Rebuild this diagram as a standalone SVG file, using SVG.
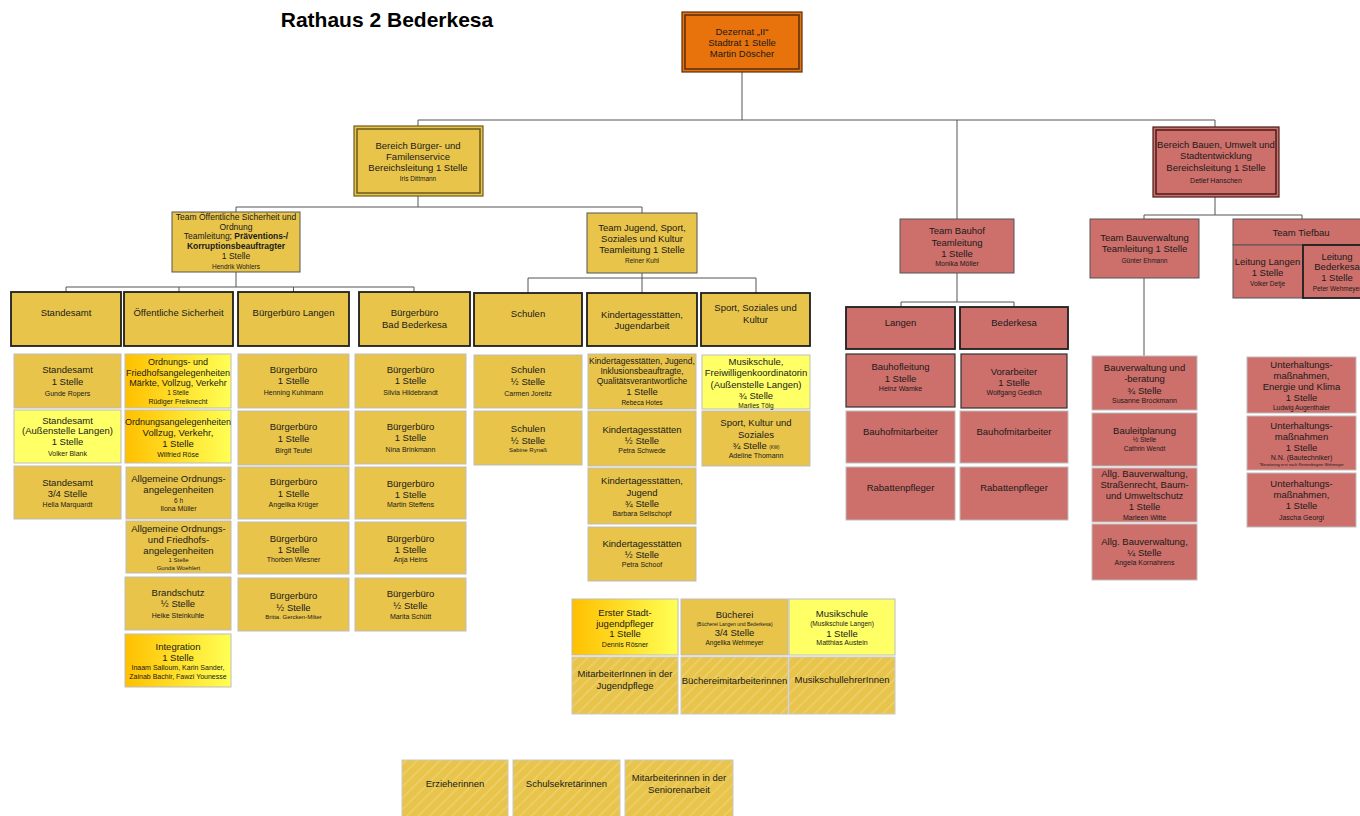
<svg xmlns="http://www.w3.org/2000/svg" width="1360" height="816" viewBox="0 0 1360 816">
<defs>
<linearGradient id="grad" x1="0" y1="0" x2="1" y2="0">
<stop offset="0" stop-color="#FFC000"/>
<stop offset="1" stop-color="#FFFF55"/>
</linearGradient>
<pattern id="hatch" width="8" height="8" patternUnits="userSpaceOnUse" patternTransform="rotate(45)">
<rect width="8" height="8" fill="#E8C44A"/>
<rect x="0" y="0" width="1.5" height="8" fill="#EDD070"/>
</pattern>
<style>
.y{fill:#E8C44A;stroke:#bdbdbd;stroke-width:1}
.ly{fill:#FFFF66;stroke:#bdbdbd;stroke-width:1}
.g{fill:url(#grad);stroke:#bdbdbd;stroke-width:1}
.r{fill:#CD6F6A;stroke:#bdbdbd;stroke-width:1}
.hd{stroke:#1e1e1e;stroke-width:1.8}
.dk{stroke:#333;stroke-width:1.2}
.tm{stroke:#555;stroke-width:1}
.ha{fill:url(#hatch);stroke:#c8c8c8;stroke-width:1}
text{font-family:"Liberation Sans",Arial,sans-serif;font-size:9.5px;fill:#1a1a1a;text-anchor:middle}
.s{font-size:7px}
.xs{font-size:6.5px}
.xxs{font-size:6px}
.m{font-size:8.5px}
.b{font-weight:bold}
.con{fill:none;stroke:#555;stroke-width:1}
</style>
</defs>
<rect width="1360" height="816" fill="#ffffff"/>
<text x="387" y="27" style="font-size:21px;font-weight:bold;fill:#000">Rathaus 2 Bederkesa</text>

<g id="connectors" class="con">
<path d="M742 72V120M418 120H1215M418 120V126M957 120V219M1215 120V127"/>
<path d="M418 196V207M236 207H642M236 207V212M642 207V213"/>
<path d="M236 272V287M66 287H414M66 287V292M179 287V292M293.5 287V292M414 287V292"/>
<path d="M642 273V278M528 278H756M528 278V293M642 278V293M756 278V293"/>
<path d="M957 273V302M901 302H1014M901 302V307M1014 302V307"/>
<path d="M1215 197V215M1144 215H1302M1144 215V219M1302 215V219M1144 278V356"/>
</g>

<g id="dezernat">
<rect x="682" y="12" width="120" height="60" fill="#E8720C" stroke="#5a2d0c" stroke-width="1.2"/>
<rect x="685" y="15" width="114" height="54" fill="none" stroke="#5a2d0c" stroke-width="1.5"/>
<text x="742" y="34.5">Dezernat „II“</text>
<text x="742" y="45.5">Stadtrat 1 Stelle</text>
<text x="742" y="56.5">Martin Döscher</text>
</g>

<g id="bereich-buerger">
<rect x="354" y="126" width="129" height="70" fill="#E8C44A" stroke="#6b5a1e" stroke-width="1.2"/>
<rect x="357" y="129" width="123" height="64" fill="none" stroke="#6b5a1e" stroke-width="1.5"/>
<text x="418" y="148.5">Bereich Bürger- und</text>
<text x="418" y="159.5">Familenservice</text>
<text x="418" y="171">Bereichsleitung 1 Stelle</text>
<text x="418" y="180.5" class="xs">Iris Dittmann</text>
</g>

<g id="team-oeffentliche">
<rect x="172" y="212" width="128" height="60" class="y tm"/>
<text x="236" y="220" class="m">Team Öffentliche Sicherheit und</text>
<text x="236" y="229.5" class="m">Ordnung</text>
<text x="236" y="239" class="m">Teamleitung; <tspan class="b">Präventions-/</tspan></text>
<text x="236" y="248.5" class="m b">Korruptionsbeauftragter</text>
<text x="236" y="258.5" class="m">1 Stelle</text>
<text x="236" y="269" class="xs">Hendrik Wohlers</text>
</g>

<g id="team-jugend">
<rect x="587" y="213" width="110" height="60" class="y tm"/>
<text x="642" y="231">Team Jugend, Sport,</text>
<text x="642" y="242">Soziales und Kultur</text>
<text x="642" y="253">Teamleitung 1 Stelle</text>
<text x="642" y="262.5" class="xs">Reiner Kuhl</text>
</g>

<g id="h-standesamt"><rect x="11" y="292" width="110" height="54" class="y hd"/><text x="66" y="316">Standesamt</text></g>
<g id="h-oeffentliche"><rect x="124" y="292" width="109" height="54" class="y hd"/><text x="178.5" y="316">Öffentliche Sicherheit</text></g>
<g id="h-bb-langen"><rect x="238" y="292" width="111" height="54" class="y hd"/><text x="293.5" y="316">Bürgerbüro Langen</text></g>
<g id="h-bb-bederkesa"><rect x="359" y="292" width="111" height="54" class="y hd"/><text x="414.5" y="316">Bürgerbüro</text><text x="414.5" y="327.5">Bad Bederkesa</text></g>
<g id="h-schulen"><rect x="474" y="293" width="108" height="53" class="y hd"/><text x="528" y="316.5">Schulen</text></g>
<g id="h-kita"><rect x="587" y="293" width="110" height="53" class="y hd"/><text x="642" y="318">Kindertagesstätten,</text><text x="642" y="329">Jugendarbeit</text></g>
<g id="h-sport"><rect x="701" y="293" width="109" height="53" class="y hd"/><text x="755.5" y="311">Sport, Soziales und</text><text x="755.5" y="322.5">Kultur</text></g>

<g id="st1"><rect x="14" y="354" width="107" height="54" class="y"/><text x="67.5" y="372.5">Standesamt</text><text x="67.5" y="384.5">1 Stelle</text><text x="67.5" y="395.5" class="s">Gunde Ropers</text></g>
<g id="st2"><rect x="14" y="410" width="107" height="53" class="ly"/><text x="67.5" y="423.5">Standesamt</text><text x="67.5" y="434">(Außenstelle Langen)</text><text x="67.5" y="445">1 Stelle</text><text x="67.5" y="456" class="s">Volker Blank</text></g>
<g id="st3"><rect x="14" y="466" width="107" height="53" class="y"/><text x="67.5" y="486">Standesamt</text><text x="67.5" y="497">3/4 Stelle</text><text x="67.5" y="506.5" class="s">Hella Marquardt</text></g>

<g id="os1"><rect x="125" y="354" width="106" height="54" class="g"/><text x="178" y="364.5" style="font-size:9px">Ordnungs- und</text><text x="178" y="375.5" style="font-size:9px">Friedhofsangelegenheiten</text><text x="178" y="386" style="font-size:9px">Märkte, Vollzug, Verkehr</text><text x="178" y="394.5" class="xs">1 Stelle</text><text x="178" y="403.5" class="s">Rüdiger Freiknecht</text></g>
<g id="os2"><rect x="125" y="410" width="106" height="53" class="g"/><text x="178" y="425" style="font-size:9px">Ordnungsangelegenheiten</text><text x="178" y="436">Vollzug, Verkehr,</text><text x="178" y="447">1 Stelle</text><text x="178" y="456.5" class="s">Wilfried Röse</text></g>
<g id="os3"><rect x="126" y="467" width="105" height="52" class="y"/><text x="178.5" y="481.5">Allgemeine Ordnungs-</text><text x="178.5" y="493">angelegenheiten</text><text x="178.5" y="502.5" class="xs">6 h</text><text x="178.5" y="511" class="s">Ilona Müller</text></g>
<g id="os4"><rect x="126" y="521" width="105" height="52" class="y"/><text x="178.5" y="531.5">Allgemeine Ordnungs-</text><text x="178.5" y="542.5">und Friedhofs-</text><text x="178.5" y="554">angelegenheiten</text><text x="178.5" y="562" class="xxs">1 Stelle</text><text x="178.5" y="569.5" class="xxs">Gunda Woehlert</text></g>
<g id="os5"><rect x="125" y="577" width="106" height="53" class="y"/><text x="178" y="595.5">Brandschutz</text><text x="178" y="607">½ Stelle</text><text x="178" y="618" class="s">Heike Steinkuhle</text></g>
<g id="os6"><rect x="125" y="634" width="106" height="53" class="g"/><text x="178" y="649.5">Integration</text><text x="178" y="661">1 Stelle</text><text x="178" y="669.5" class="s">Inaam Salloum, Karin Sander,</text><text x="178" y="678.5" class="s">Zainab Bachir, Fawzi Younesse</text></g>

<g id="bl1"><rect x="238" y="354" width="111" height="54" class="y"/><text x="293.5" y="372.5">Bürgerbüro</text><text x="293.5" y="384">1 Stelle</text><text x="293.5" y="395" class="s">Henning Kuhlmann</text></g>
<g id="bl2"><rect x="238" y="411" width="111" height="54" class="y"/><text x="293.5" y="430">Bürgerbüro</text><text x="293.5" y="441.5">1 Stelle</text><text x="293.5" y="452.5" class="s">Birgit Teufel</text></g>
<g id="bl3"><rect x="238" y="467" width="111" height="52" class="y"/><text x="293.5" y="485">Bürgerbüro</text><text x="293.5" y="496.5">1 Stelle</text><text x="293.5" y="507" class="s">Angelika Krüger</text></g>
<g id="bl4"><rect x="238" y="522" width="111" height="52" class="y"/><text x="293.5" y="541.5">Bürgerbüro</text><text x="293.5" y="553">1 Stelle</text><text x="293.5" y="562" class="s">Thorben Wiesner</text></g>
<g id="bl5"><rect x="238" y="578" width="111" height="53" class="y"/><text x="293.5" y="599">Bürgerbüro</text><text x="293.5" y="610.5">½  Stelle</text><text x="293.5" y="618.5" class="xxs">Britta. Gercken-Milter</text></g>

<g id="bb1"><rect x="355" y="354" width="111" height="54" class="y"/><text x="410.5" y="372.5">Bürgerbüro</text><text x="410.5" y="384">1 Stelle</text><text x="410.5" y="395" class="s">Silvia Hildebrandt</text></g>
<g id="bb2"><rect x="355" y="411" width="111" height="53" class="y"/><text x="410.5" y="429.5">Bürgerbüro</text><text x="410.5" y="441">1 Stelle</text><text x="410.5" y="452" class="s">Nina Brinkmann</text></g>
<g id="bb3"><rect x="355" y="467" width="111" height="52" class="y"/><text x="410.5" y="486.5">Bürgerbüro</text><text x="410.5" y="498">1 Stelle</text><text x="410.5" y="506.5" class="s">Martin Steffens</text></g>
<g id="bb4"><rect x="355" y="522" width="111" height="52" class="y"/><text x="410.5" y="541.5">Bürgerbüro</text><text x="410.5" y="553">1 Stelle</text><text x="410.5" y="562" class="s">Anja Heins</text></g>
<g id="bb5"><rect x="355" y="578" width="111" height="53" class="y"/><text x="410.5" y="597">Bürgerbüro</text><text x="410.5" y="608.5">½ Stelle</text><text x="410.5" y="619" class="s">Marita Schütt</text></g>

<g id="sc1"><rect x="474" y="355" width="108" height="53" class="y"/><text x="528" y="373">Schulen</text><text x="528" y="384.5">½ Stelle</text><text x="528" y="395.5" class="s">Carmen Joreitz</text></g>
<g id="sc2"><rect x="474" y="411" width="108" height="54" class="y"/><text x="528" y="431.5">Schulen</text><text x="528" y="443.5">½ Stelle</text><text x="528" y="451.5" class="xxs">Sabine Rynaß</text></g>

<g id="ki1"><rect x="588" y="354" width="108" height="55" class="y"/><text x="642" y="363.5" class="m">Kindertagesstätten, Jugend,</text><text x="642" y="373.5" class="m">Inklusionsbeauftragte,</text><text x="642" y="383.5" class="m">Qualitätsverantwortliche</text><text x="642" y="394.5">1 Stelle</text><text x="642" y="405" class="xs">Rebeca Hotes</text></g>
<g id="ki2"><rect x="588" y="411" width="108" height="55" class="y"/><text x="642" y="432.5">Kindertagesstätten</text><text x="642" y="443.5">½ Stelle</text><text x="642" y="452.5" class="s">Petra Schwede</text></g>
<g id="ki3"><rect x="588" y="468" width="108" height="56" class="y"/><text x="642" y="484">Kindertagesstätten,</text><text x="642" y="495.5">Jugend</text><text x="642" y="507">¾ Stelle</text><text x="642" y="516" class="s">Barbara Sellschopf</text></g>
<g id="ki4"><rect x="588" y="527" width="108" height="54" class="y"/><text x="642" y="547">Kindertagesstätten</text><text x="642" y="558">½ Stelle</text><text x="642" y="566.5" class="s">Petra Schoof</text></g>

<g id="sp1"><rect x="702" y="355" width="108" height="54" class="ly"/><text x="756" y="364.5">Musikschule,</text><text x="756" y="376">Freiwilligenkoordinatorin</text><text x="756" y="387.5">(Außenstelle Langen)</text><text x="756" y="398.5">¾ Stelle</text><text x="756" y="408" class="xs">Marlies Tölg</text></g>
<g id="sp2"><rect x="702" y="411" width="108" height="55" class="y"/><text x="756" y="426">Sport, Kultur und</text><text x="756" y="437.5">Soziales</text><text x="756" y="449">¾ Stelle <tspan style="font-size:4.5px">(KW)</tspan></text><text x="756" y="458" class="s">Adeline Thomann</text></g>

<g id="jugendpfleger"><rect x="572" y="599" width="106" height="56" class="g"/><text x="625" y="615.5">Erster Stadt-</text><text x="625" y="627">jugendpfleger</text><text x="625" y="637">1 Stelle</text><text x="625" y="646.5" class="s">Dennis Rösner</text></g>
<g id="buecherei"><rect x="681" y="599" width="107" height="56" class="y"/><text x="734.5" y="617.5">Bücherei</text><text x="734.5" y="625.5" style="font-size:5px">(Bücherei Langen und Bederkesa)</text><text x="734.5" y="636">3/4 Stelle</text><text x="734.5" y="644.5" class="xs">Angelika Wehmeyer</text></g>
<g id="musikschule"><rect x="789" y="599" width="106" height="56" class="ly"/><text x="842" y="617">Musikschule</text><text x="842" y="626" class="xs">(Musikschule Langen)</text><text x="842" y="636.5">1 Stelle</text><text x="842" y="645" class="s">Matthias Austein</text></g>
<g id="ma-jugendpflege"><rect x="572" y="657" width="106" height="57" class="ha"/><text x="625" y="677">MitarbeiterInnen in der</text><text x="625" y="688.5">Jugendpflege</text></g>
<g id="ma-buecherei"><rect x="681" y="657" width="107" height="57" class="ha"/><text x="734.5" y="683.5">Büchereimitarbeiterinnen</text></g>
<g id="ma-musikschule"><rect x="789" y="657" width="106" height="57" class="ha"/><text x="842" y="683">MusikschullehrerInnen</text></g>

<g id="erzieherinnen"><rect x="402" y="760" width="106" height="60" class="ha"/><text x="455" y="787">Erzieherinnen</text></g>
<g id="schulsekretaerinnen"><rect x="513" y="760" width="107" height="60" class="ha"/><text x="566.5" y="787">Schulsekretärinnen</text></g>
<g id="seniorenarbeit"><rect x="625" y="760" width="108" height="60" class="ha"/><text x="679" y="781">Mitarbeiterinnen in der</text><text x="679" y="793">Seniorenarbeit</text></g>

<g id="team-bauhof"><rect x="900" y="219" width="114" height="54" class="r tm"/><text x="957" y="234">Team Bauhof</text><text x="957" y="245.5">Teamleitung</text><text x="957" y="257">1 Stelle</text><text x="957" y="265.5" class="s">Monika Möller</text></g>
<g id="h-langen"><rect x="846" y="307" width="109" height="42" class="r hd"/><text x="900.5" y="326">Langen</text></g>
<g id="h-bederkesa"><rect x="960" y="307" width="108" height="42" class="r hd"/><text x="1014" y="326">Bederkesa</text></g>
<g id="bauhofleitung"><rect x="846" y="354" width="109" height="53" class="r dk"/><text x="900.5" y="370">Bauhofleitung</text><text x="900.5" y="381.5">1 Stelle</text><text x="900.5" y="390.5" class="s">Heinz Wamke</text></g>
<g id="vorarbeiter"><rect x="961" y="354" width="106" height="54" class="r dk"/><text x="1014" y="375">Vorarbeiter</text><text x="1014" y="386">1 Stelle</text><text x="1014" y="395" class="s">Wolfgang Gedlich</text></g>
<g id="bauhofmitarbeiter-l"><rect x="846" y="411" width="109" height="52" class="r"/><text x="900.5" y="435">Bauhofmitarbeiter</text></g>
<g id="bauhofmitarbeiter-b"><rect x="960" y="411" width="108" height="52" class="r"/><text x="1014" y="435">Bauhofmitarbeiter</text></g>
<g id="rabattenpfleger-l"><rect x="846" y="467" width="109" height="53" class="r"/><text x="900.5" y="491">Rabattenpfleger</text></g>
<g id="rabattenpfleger-b"><rect x="960" y="467" width="108" height="53" class="r"/><text x="1014" y="491">Rabattenpfleger</text></g>

<g id="bereich-bauen">
<rect x="1153" y="127" width="126" height="70" fill="#CD6F6A" stroke="#4a1c1a" stroke-width="1.2"/>
<rect x="1156" y="130" width="120" height="64" fill="none" stroke="#4a1c1a" stroke-width="1.5"/>
<text x="1216" y="148">Bereich Bauen, Umwelt und</text>
<text x="1216" y="159">Stadtentwicklung</text>
<text x="1216" y="171">Bereichsleitung 1 Stelle</text>
<text x="1216" y="182.5" class="s">Detlef Hanschen</text>
</g>
<g id="team-bauverwaltung"><rect x="1090" y="219" width="109" height="59" class="r tm"/><text x="1144.5" y="241">Team Bauverwaltung</text><text x="1144.5" y="252">Teamleitung 1 Stelle</text><text x="1144.5" y="262.5" class="xs">Günter Ehmann</text></g>
<g id="team-tiefbau"><rect x="1233" y="219" width="132" height="26" class="r tm"/><text x="1301" y="236">Team Tiefbau</text></g>
<g id="leitung-langen"><rect x="1233" y="245" width="70" height="53" class="r tm"/><text x="1267.5" y="265">Leitung Langen</text><text x="1267.5" y="276">1 Stelle</text><text x="1267.5" y="286" class="xs">Volker Detje</text></g>
<g id="leitung-bederkesa"><rect x="1303" y="245" width="62" height="53" class="r hd"/><text x="1337" y="259.5">Leitung</text><text x="1337" y="270">Bederkesa</text><text x="1337" y="281">1 Stelle</text><text x="1337" y="290.5" class="xs">Peter Wehmeyer</text></g>

<g id="bv1"><rect x="1092" y="356" width="105" height="54" class="r"/><text x="1144.5" y="371">Bauverwaltung und</text><text x="1144.5" y="382">-beratung</text><text x="1144.5" y="394">¾ Stelle</text><text x="1144.5" y="403" class="s">Susanne Brockmann</text></g>
<g id="bv2"><rect x="1092" y="413" width="105" height="53" class="r"/><text x="1144.5" y="434">Bauleitplanung</text><text x="1144.5" y="442" class="xs">½ Stelle</text><text x="1144.5" y="451" class="xs">Cathrin Wendt</text></g>
<g id="bv3"><rect x="1092" y="468" width="105" height="54" class="r"/><text x="1144.5" y="476.5">Allg. Bauverwaltung,</text><text x="1144.5" y="487.5">Straßenrecht, Baum-</text><text x="1144.5" y="498.5">und Umweltschutz</text><text x="1144.5" y="509.5">1 Stelle</text><text x="1144.5" y="520" class="s">Marleen Witte</text></g>
<g id="bv4"><rect x="1092" y="524" width="105" height="56" class="r"/><text x="1144.5" y="545">Allg. Bauverwaltung,</text><text x="1144.5" y="556">¼ Stelle</text><text x="1144.5" y="565" class="s">Angela Kornahrens</text></g>

<g id="um1"><rect x="1247" y="357" width="109" height="56" class="r"/><text x="1301.5" y="367.5">Unterhaltungs-</text><text x="1301.5" y="379">maßnahmen,</text><text x="1301.5" y="390">Energie und Klima</text><text x="1301.5" y="401">1 Stelle</text><text x="1301.5" y="410" class="xs">Ludwig Augenthaler</text></g>
<g id="um2"><rect x="1247" y="416" width="109" height="54" class="r"/><text x="1301.5" y="428.5">Unterhaltungs-</text><text x="1301.5" y="440">maßnahmen</text><text x="1301.5" y="451">1 Stelle</text><text x="1301.5" y="460" class="s">N.N. (Bautechniker)</text><text x="1301.5" y="466" style="font-size:4px">*Besetzung erst nach Rentenbeginn Wehmeyer</text></g>
<g id="um3"><rect x="1247" y="473" width="109" height="54" class="r"/><text x="1301.5" y="487">Unterhaltungs-</text><text x="1301.5" y="498">maßnahmen,</text><text x="1301.5" y="509">1 Stelle</text><text x="1301.5" y="519.5" class="s">Jascha Georgi</text></g>
</svg>
